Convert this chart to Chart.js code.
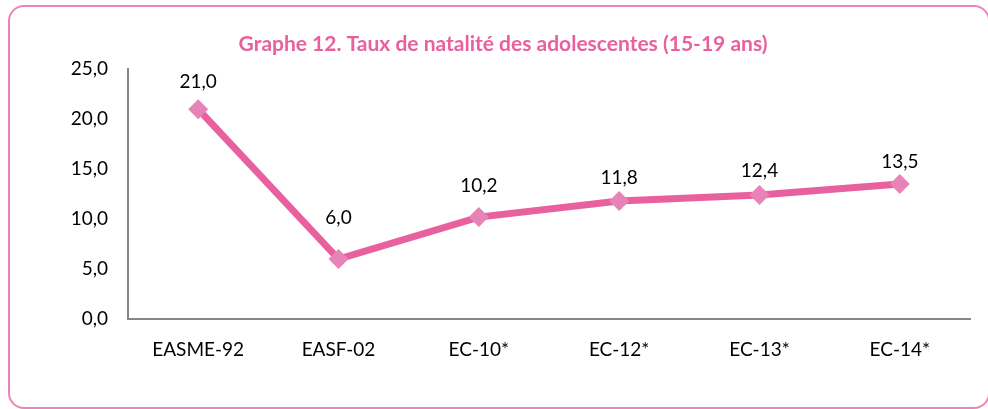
<!DOCTYPE html>
<html>
<head>
<meta charset="utf-8">
<script src="https://cdn.jsdelivr.net/npm/chart.js@4.4.1/dist/chart.umd.min.js"></script>
<style>
  html, body { margin: 0; padding: 0; background: #fff; overflow: hidden; }
  body { width: 988px; height: 409px; position: relative; }
  #frame { position: absolute; left: 8px; top: 5px; width: 982px; height: 404px;
           border: 2px solid #ee82b8; border-radius: 16px; box-sizing: border-box; }
  #wrap { position: absolute; left: 0; top: 0; width: 988px; height: 409px; }
</style>
</head>
<body>
<div id="frame"></div>
<div id="wrap"><canvas id="c" width="988" height="409"></canvas></div>
<script>
const categories = ["EASME-92", "EASF-02", "EC-10*", "EC-12*", "EC-13*", "EC-14*"];
const values = [21.0, 6.0, 10.2, 11.8, 12.4, 13.5];
const yTicks = [0, 5, 10, 15, 20, 25];
const titleText = "Graphe 12. Taux de natalité des adolescentes (15-19 ans)";

const fmt = v => v.toFixed(1).replace('.', ',');
const FONT = "Lato, 'Open Sans', sans-serif";
// vertical distance (px) of each value label's centre above its point
const labelLift = [27, 41, 31, 23, 24, 22];

const labelPlugin = {
  id: 'pointLabels',
  afterDatasetsDraw(chart) {
    const ctx = chart.ctx;
    const meta = chart.getDatasetMeta(0);
    ctx.save();
    ctx.font = "19px " + FONT;
    ctx.fillStyle = "#000";
    ctx.textAlign = "center";
    ctx.textBaseline = "middle";
    meta.data.forEach((pt, i) => {
      ctx.fillText(fmt(values[i]), pt.x, pt.y - labelLift[i]);
    });
    ctx.restore();
  }
};

new Chart(document.getElementById('c'), {
  type: 'line',
  data: {
    labels: categories,
    datasets: [{
      data: values,
      borderColor: '#e8609e',
      borderWidth: 7,
      pointStyle: 'rectRot',
      pointRadius: 10,
      pointHoverRadius: 10,
      pointBackgroundColor: '#e883b7',
      pointBorderColor: '#e883b7',
      pointBorderWidth: 0,
      tension: 0,
      fill: false
    }]
  },
  options: {
    responsive: false,
    animation: false,
    events: [],
    layout: { padding: { left: 36, right: 18, top: 0, bottom: 0 } },
    plugins: {
      legend: { display: false },
      tooltip: { enabled: false },
      title: {
        display: true,
        text: titleText,
        color: '#e8609e',
        font: { family: FONT, size: 21, weight: 'bold' },
        padding: { top: 32, bottom: 12 }
      }
    },
    scales: {
      x: {
        offset: true,
        grid: { display: false, drawTicks: false },
        border: { display: true, color: '#868686', width: 2 },
        ticks: { color: '#000', font: { family: FONT, size: 19 }, padding: 19, maxRotation: 0 },
        afterFit(scale) { scale.height = 90; }
      },
      y: {
        min: 0, max: 25,
        afterBuildTicks(scale) { scale.ticks = yTicks.map(v => ({ value: v })); },
        grid: { display: false, drawTicks: false },
        border: { display: true, color: '#868686', width: 2 },
        ticks: { color: '#000', font: { family: FONT, size: 19 }, padding: 20,
                 callback: v => fmt(v) },
        afterFit(scale) { scale.width = 92; }
      }
    }
  },
  plugins: [labelPlugin]
});
</script>
</body>
</html>
